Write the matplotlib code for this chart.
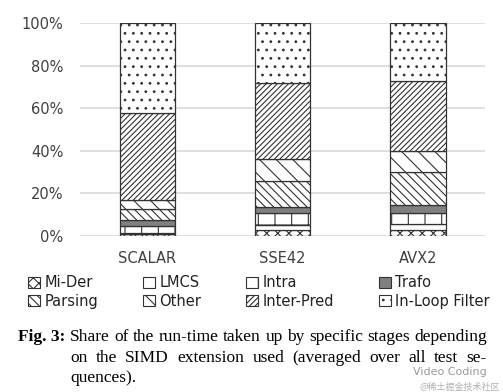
import numpy as np
import matplotlib.pyplot as plt
from matplotlib.patches import Patch

categories = ['SCALAR', 'SSE42', 'AVX2']
stages = ['Mi-Der', 'LMCS', 'Intra', 'Trafo', 'Parsing', 'Other', 'Inter-Pred', 'In-Loop Filter']
# share in percent, bottom to top
shares = {
    'Mi-Der':         [1.0, 3.0, 3.0],
    'LMCS':           [0.5, 2.0, 2.5],
    'Intra':          [3.0, 6.0, 5.5],
    'Trafo':          [3.0, 2.5, 3.5],
    'Parsing':        [5.0, 12.5, 15.5],
    'Other':          [4.5, 10.0, 10.0],
    'Inter-Pred':     [41.0, 36.0, 33.0],
    'In-Loop Filter': [42.0, 28.0, 27.0],
}
yticks = [0, 20, 40, 60, 80, 100]

styles = {
    'Mi-Der':         dict(facecolor='white', hatch='xxx'),
    'LMCS':           dict(facecolor='white', hatch=''),
    'Intra':          dict(facecolor='white', hatch='+'),
    'Trafo':          dict(facecolor='#808080', hatch=''),
    'Parsing':        dict(facecolor='white', hatch='\\\\\\\\'),
    'Other':          dict(facecolor='white', hatch='\\\\'),
    'Inter-Pred':     dict(facecolor='white', hatch='//////'),
    'In-Loop Filter': dict(facecolor='white', hatch='..'),
}

plt.rcParams['hatch.linewidth'] = 0.8
plt.rcParams['hatch.color'] = '#222222'

fig = plt.figure(figsize=(5.03, 3.92), dpi=100)
ax = fig.add_axes([0.159, 0.398, 0.806, 0.543])

x = np.arange(len(categories))
bottom = np.zeros(len(categories))
for s in stages:
    v = np.array(shares[s])
    ax.bar(x, v, 0.41, bottom=bottom, edgecolor='#333333', linewidth=0.9,
           label=s, zorder=3, **styles[s])
    bottom += v

ax.set_xlim(-0.5, 2.5)
ax.set_ylim(0, 100)
ax.set_yticks(yticks)
ax.set_yticklabels([f'{t}%' for t in yticks])
ax.set_xticks(x)
ax.set_xticklabels(categories)
ax.grid(axis='y', color='#d9d9d9', linewidth=1.2, zorder=0)
for sp in ax.spines.values():
    sp.set_visible(False)
ax.tick_params(length=0, labelsize=10.5, colors='#404040')
ax.tick_params(axis='y', pad=12)
ax.tick_params(axis='x', pad=11)

# legend filled column-wise, so reorder to get rows
order = ['Mi-Der', 'Parsing', 'LMCS', 'Other', 'Intra', 'Inter-Pred', 'Trafo', 'In-Loop Filter']
handles = [Patch(edgecolor='#333333', linewidth=0.8, label=s, **styles[s]) for s in order]
fig.legend(handles=handles, loc='lower left', bbox_to_anchor=(0.045, 0.197, 0.94, 0.1),
           ncol=4, mode='expand', frameon=False, fontsize=10.5, handlelength=0.8,
           handleheight=0.8, handletextpad=0.3, labelspacing=0.25, borderaxespad=0,
           labelcolor='#222222')

# caption, justified by hand
fig.text(18 / 503, 1 - 337 / 392, 'Fig. 3:', fontfamily='Liberation Serif', fontweight='bold',
         fontsize=12.5, va='center')
lines = ['Share of the run-time taken up by specific stages depending',
         'on the SIMD extension used (averaged over all test se-',
         'quences).']
fig.canvas.draw()
r = fig.canvas.get_renderer()
x0, x1 = 70, 487
for i, line in enumerate(lines):
    y = 1 - (337 + 20.5 * i) / 392
    words = line.split()
    if i == len(lines) - 1:
        fig.text(x0 / 503, y, line, fontfamily='Liberation Serif', fontsize=12.5, va='center')
        continue
    ts = [fig.text(0, y, w, fontfamily='Liberation Serif', fontsize=12.5, va='center') for w in words]
    widths = [t.get_window_extent(r).width for t in ts]
    gap = (x1 - x0 - sum(widths)) / (len(words) - 1)
    pos = x0
    for t, w in zip(ts, widths):
        t.set_x(pos / 503)
        pos += w + gap

# watermark
fig.text(487 / 503, 1 - 372 / 392, 'Video Coding', ha='right', va='center', fontsize=8,
         color='#9a9a9a')
fig.text(500 / 503, 1 - 387 / 392, '@稀土掘金技术社区', ha='right', va='center', fontsize=6.5,
         color='#b0b0b0', fontfamily=['Noto Sans CJK SC', 'DejaVu Sans'])

fig.savefig('out.png', dpi=100)
